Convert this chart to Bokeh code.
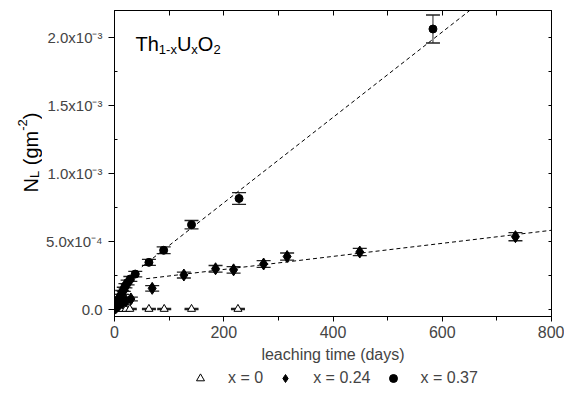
from bokeh.plotting import figure
from bokeh.layouts import column, row
from bokeh.models import (Range1d, FixedTicker, LinearAxis, Whisker, TeeHead,
                          ColumnDataSource, Legend, LegendItem, Label)
from bokeh.embed import file_html
from bokeh.resources import INLINE

FONT = "Liberation Sans"
NAN = float("nan")

# ---- data ----
# x = 0
x0_days = [1, 3, 6, 10, 14, 21, 28, 63, 91, 141, 226]
x0_nl = [0.000005, 0.000005, 0.000005, 0.000005, 0.000005, 0.000005, 0.000005,
         0.000005, 0.000005, 0.000005, 0.000005]
x0_err = [0.000004, 0.000004, 0.000004, 0.000004, 0.000004, 0.000004, 0.000004,
          0.000004, 0.000004, 0.000004, 0.000004]

# x = 0.24
x24_days = [2, 5, 9, 14, 21, 30, 69, 127, 185, 218, 273, 316, 449, 734]
x24_nl = [0.000012, 0.000025, 0.000038, 0.000050, 0.000064, 0.000079, 0.000157,
          0.000255, 0.000301, 0.000293, 0.000336, 0.000391, 0.000424, 0.000537]
x24_err = [0.000010, 0.000010, 0.000010, 0.000012, 0.000012, 0.000014, 0.000020,
           0.000022, 0.000024, 0.000024, 0.000025, 0.000026, 0.000027, 0.000030]

# x = 0.37
x37_days = [1, 3, 5, 8, 11, 14, 17, 20, 24, 29, 38, 63, 90, 141, 228, 583]
x37_nl = [0.000012, 0.000035, 0.000055, 0.000079, 0.000100, 0.000127, 0.000150,
          0.000176, 0.000200, 0.000226, 0.000262, 0.000348, 0.000437, 0.000625,
          0.000818, 0.002064]
x37_err = [0.000010, 0.000010, 0.000010, 0.000012, 0.000012, 0.000014, 0.000015,
           0.000016, 0.000017, 0.000018, 0.000020, 0.000022, 0.000025, 0.000031,
           0.000043, 0.000103]

# linear fits (slope per day, intercept, x extent)
fit37_slope, fit37_intercept, fit37_x = 3.14e-6, 1.58e-4, [50, 650]
fit24_slope, fit24_intercept, fit24_x = 4.8e-7, 2.0e-4, [58, 800]

x_ticks = [0, 200, 400, 600, 800]
x_minor = [100, 300, 500, 700]
y_ticks = [0.0, 0.0005, 0.001, 0.0015, 0.002]
y_tick_labels = ["0.0", "5.0x10\u207b\u2074", "1.0x10\u207b\u00b3",
                 "1.5x10\u207b\u00b3", "2.0x10\u207b\u00b3"]
y_minor = [-0.00025, 0.00025, 0.00075, 0.00125, 0.00175, 0.00225]

x_label = "leaching time (days)"
legend_labels = ["x = 0", "x = 0.24", "x = 0.37"]

# layout sizes (px)
YLAB_W, MAIN_W, MAIN_H, LEG_H = 42, 522, 368, 29

# ---- main figure ----
p = figure(width=MAIN_W, height=MAIN_H,
           output_backend="svg", toolbar_location=None,
           x_range=Range1d(0, 800), y_range=Range1d(-0.00005, 0.0022),
           min_border_left=114 - YLAB_W, min_border_right=13, min_border_top=10,
           min_border_bottom=52, background_fill_color="white",
           border_fill_color="white")
p.xgrid.visible = False
p.ygrid.visible = False
p.outline_line_color = "black"
p.outline_line_width = 1

xa = p.xaxis[0]
xa.ticker = FixedTicker(ticks=x_ticks, minor_ticks=x_minor)
xa.axis_label = x_label
xa.axis_label_text_font = FONT
xa.axis_label_text_font_size = "16px"
xa.axis_label_text_font_style = "normal"
xa.axis_label_standoff = 5
xa.major_label_text_font = FONT
xa.major_label_text_font_size = "16px"
xa.major_label_standoff = 4
xa.major_tick_out = 5
xa.major_tick_in = 0
xa.minor_tick_out = 4
xa.minor_tick_in = 0

ya = p.yaxis[0]
ya.ticker = FixedTicker(ticks=y_ticks, minor_ticks=y_minor)
ya.major_label_overrides = dict(zip(y_ticks, y_tick_labels))
ya.major_label_text_font = FONT
ya.major_label_text_font_size = "15px"
ya.major_label_standoff = 6
ya.major_tick_out = 6
ya.major_tick_in = 0
ya.minor_tick_out = 0
ya.minor_tick_in = 3

top = LinearAxis(ticker=FixedTicker(ticks=x_ticks, minor_ticks=x_minor),
                 major_label_text_font_size="1px", major_label_text_alpha=0,
                 major_tick_in=5, major_tick_out=0,
                 minor_tick_in=5, minor_tick_out=0, major_label_standoff=0)
p.add_layout(top, "above")
right = LinearAxis(ticker=FixedTicker(ticks=y_ticks, minor_ticks=y_minor),
                   major_label_text_font_size="1px", major_label_text_alpha=0,
                   major_tick_in=3, major_tick_out=0,
                   minor_tick_in=3, minor_tick_out=0, major_label_standoff=0)
p.add_layout(right, "right")


def add_errors(xs, ys, es):
    src = ColumnDataSource(dict(x=xs, lo=[y - e for y, e in zip(ys, es)],
                                hi=[y + e for y, e in zip(ys, es)]))
    w = Whisker(source=src, base="x", lower="lo", upper="hi", dimension="height",
                line_color="#222222", line_width=1,
                upper_head=TeeHead(size=14, line_color="#222222", line_width=1.3),
                lower_head=TeeHead(size=14, line_color="#222222", line_width=1.3))
    p.add_layout(w)


# fit lines
fx37 = fit37_x
fy37 = [fit37_intercept + fit37_slope * v for v in fx37]
p.line(fx37, fy37, line_color="black", line_width=1, line_dash="4 3")
fx24 = fit24_x
fy24 = [fit24_intercept + fit24_slope * v for v in fx24]
p.line(fx24, fy24, line_color="black", line_width=1, line_dash="4 3")

add_errors(x0_days, x0_nl, x0_err)
add_errors(x24_days, x24_nl, x24_err)
add_errors(x37_days, x37_nl, x37_err)

TRI = dict(marker="triangle", size=8, fill_color="white", line_color="black",
           line_width=1)
DIA = dict(marker="diamond", size=12, fill_color="black", line_color="black")
CIR = dict(marker="circle", size=8, fill_color="black", line_color="black")

p.scatter(x0_days, x0_nl, **TRI)
p.scatter(x24_days, x24_nl, **DIA)
p.scatter(x37_days, x37_nl, **CIR)

# ---- composed title Th(1-x)U(x)O(2) inside the frame ----
W = {"T": .611, "h": .556, "1": .556, "-": .333, "x": .5, "U": .722, "O": .778,
     "2": .556, "N": .722, "L": .556, " ": .278, "(": .333, "g": .556,
     "m": .833, ")": .333}
FRAME_L, FRAME_B = 114, 316


def width(s, size):
    return sum(W[c] for c in s) * size


title_runs = [("Th", 20, 0), ("1-x", 13, 5), ("U", 20, 0), ("x", 13, 5),
              ("O", 20, 0), ("2", 13, 5)]
cx, base = 135.0, 43.5
for txt, size, dy in title_runs:
    p.add_layout(Label(x=cx - FRAME_L, y=FRAME_B - (base + dy), x_units="screen",
                       y_units="screen", text=txt, text_font=FONT,
                       text_font_size=f"{size}px", text_color="black",
                       text_align="left", text_baseline="alphabetic"))
    cx += width(txt, size)

# ---- y-axis title strip: N_L (gm^-2), rotated ----
py = figure(width=YLAB_W, height=MAIN_H, output_backend="svg",
            toolbar_location=None, x_axis_type=None, y_axis_type=None,
            x_range=Range1d(0, 1), y_range=Range1d(0, 1), min_border=0,
            min_border_left=0, min_border_right=0, min_border_top=0,
            min_border_bottom=0,
            outline_line_color=None, background_fill_color="white",
            border_fill_color="white")
py.xgrid.visible = False
py.ygrid.visible = False
# (text, font px, shift across baseline, extra gap before)
ylab_runs = [("N", 20, 0, 0), ("L", 13, 4, 0), ("(gm", 20, 0, 5.6),
             ("-2", 13, -8, 0), (")", 20, 0, 0)]
cy, basex = 244.0, 30.0
for txt, size, dx, gap in ylab_runs:
    cy -= gap
    py.add_layout(Label(x=basex + dx, y=MAIN_H - cy, x_units="screen",
                        y_units="screen", text=txt, text_font=FONT,
                        text_font_size=f"{size}px", text_color="black",
                        angle=1.5707963267948966, text_align="left",
                        text_baseline="alphabetic"))
    cy -= width(txt, size)

# ---- legend strip ----
pl = figure(width=YLAB_W + MAIN_W, height=LEG_H, output_backend="svg",
            toolbar_location=None, x_axis_type=None, y_axis_type=None,
            x_range=Range1d(0, 1), y_range=Range1d(0, 1), min_border=0,
            min_border_left=0, min_border_right=0, min_border_top=0,
            min_border_bottom=0,
            outline_line_color=None, background_fill_color="white",
            border_fill_color="white")
pl.xgrid.visible = False
pl.ygrid.visible = False
l0 = pl.scatter([NAN], [NAN], **TRI)
l24 = pl.scatter([NAN], [NAN], **DIA)
l37 = pl.scatter([NAN], [NAN], **CIR)
legend = Legend(items=[LegendItem(label=legend_labels[0], renderers=[l0]),
                       LegendItem(label=legend_labels[1], renderers=[l24]),
                       LegendItem(label=legend_labels[2], renderers=[l37])],
                orientation="horizontal", location=(190, 9),
                label_text_font=FONT, label_text_font_size="16px",
                glyph_width=20, glyph_height=20, label_standoff=18, spacing=12,
                padding=0, margin=0, border_line_color=None,
                background_fill_alpha=0)
pl.add_layout(legend, "center")

layout = column(row(py, p, spacing=0), pl, spacing=0)
open("out.html", "w").write(file_html(layout, INLINE))
